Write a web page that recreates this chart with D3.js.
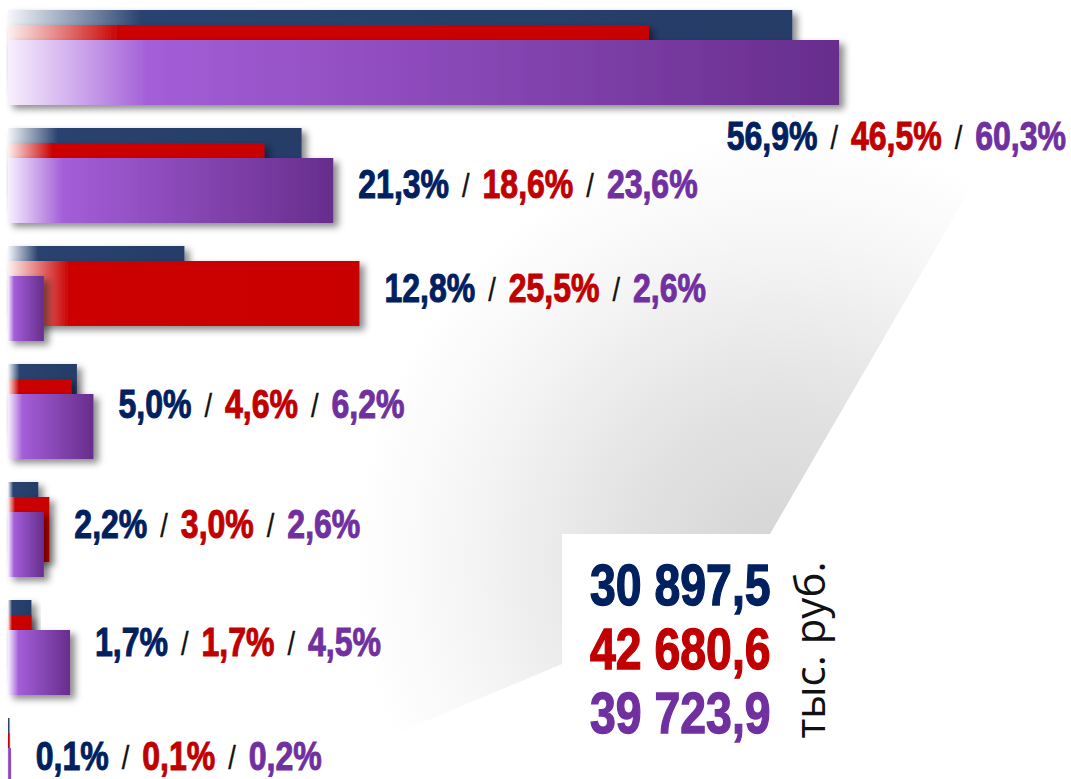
<!DOCTYPE html>
<html>
<head>
<meta charset="utf-8">
<script src="https://cdn.jsdelivr.net/npm/d3@7"></script>
<style>
  html, body { margin: 0; padding: 0; background: #fff; overflow: hidden; }
  svg { display: block; }
</style>
</head>
<body>
<div id="chart"></div>
<script>
"use strict";

// values, share in %
var rows = [0, 1, 2, 3, 4, 5, 6];
var navyValues   = [56.9, 21.3, 12.8, 5.0, 2.2, 1.7, 0.1];
var redValues    = [46.5, 18.6, 25.5, 4.6, 3.0, 1.7, 0.1];
var purpleValues = [60.3, 23.6, 2.6, 6.2, 2.6, 4.5, 0.2];
// totals, thousand rubles
var totals = [30897.5, 42680.6, 39723.9];
var unitLabel = "тыс. руб.";

var W = 1071, H = 779;
var colors = { navy: "#002060", red: "#c00000", purple: "#7030a0" };
var seriesList = [
  { key: "navy",   values: navyValues,   from: "#f4f6fa", to: "#2a426f", end: "#263d68" },
  { key: "red",    values: redValues,    from: "#fdf0f0", to: "#cc0606", end: "#c90404" },
  { key: "purple", values: purpleValues, from: "#f8f0fe", to: "#a35ed8", end: "#672d8c" }
];
// small vertical nudge of the value labels, px
var labelNudge = [0, 14, 0, -2, 0, 0, -4];

var ru = d3.formatLocale({ decimal: ",", thousands: "\u00a0", grouping: [3], currency: ["", ""] });
var fmtPct = ru.format(".1f");
var fmtTotal = ru.format(",.1f");

var svg = d3.select("#chart").append("svg").attr("width", W).attr("height", H);
var defs = svg.append("defs");

// soft grey backdrop behind the chart
var bg = defs.append("radialGradient").attr("id", "bg-grad")
  .attr("gradientUnits", "userSpaceOnUse")
  .attr("cx", 780).attr("cy", 560).attr("r", 520);
bg.append("stop").attr("offset", "0%").attr("stop-color", "#d4d4d4");
bg.append("stop").attr("offset", "30%").attr("stop-color", "#e2e2e2");
bg.append("stop").attr("offset", "62%").attr("stop-color", "#f6f6f6");
bg.append("stop").attr("offset", "82%").attr("stop-color", "#ffffff");

svg.append("path")
  .attr("d", "M1083,-5 L770,534 L562,534 L562,664 L262,790 L-10,790 L-10,-5 Z")
  .attr("fill", "url(#bg-grad)");

// bar gradients and shadow
seriesList.forEach(function(s) {
  var lg = defs.append("linearGradient").attr("id", "grad-" + s.key)
    .attr("x1", "0%").attr("x2", "100%").attr("y1", "0%").attr("y2", "0%");
  lg.append("stop").attr("offset", "0%").attr("stop-color", s.from);
  lg.append("stop").attr("offset", "17%").attr("stop-color", s.to);
  lg.append("stop").attr("offset", "100%").attr("stop-color", s.end);
});

var shadow = defs.append("filter").attr("id", "shadow")
  .attr("x", "-20%").attr("y", "-20%").attr("width", "160%").attr("height", "160%");
shadow.append("feDropShadow").attr("dx", 5).attr("dy", 4).attr("stdDeviation", 3.5)
  .attr("flood-color", "#000").attr("flood-opacity", 0.45);

// scales
var x = d3.scaleLinear().domain([0, 60]).range([8, 835]);
var y = d3.scaleBand().domain(rows).range([10, 10 + rows.length * 118]);
var yOff = d3.scaleLinear().domain([0, seriesList.length - 1]).range([0, 30]);
var barH = 65;

var rowG = svg.selectAll("g.row").data(rows).enter().append("g")
  .attr("class", "row")
  .attr("transform", function(r) { return "translate(0," + y(r) + ")"; });

seriesList.forEach(function(s, si) {
  rowG.append("rect")
    .attr("x", x(0))
    .attr("y", yOff(si))
    .attr("width", function(r) { return Math.max(1.5, x(s.values[r]) - x(0)); })
    .attr("height", barH)
    .attr("fill", "url(#grad-" + s.key + ")")
    .attr("filter", "url(#shadow)");
});

// value labels: navy / red / purple
var boldFont = "'Liberation Sans', Arial, sans-serif";
var sx = 0.8;

rowG.each(function(r) {
  var g = d3.select(this);
  var lg = g.append("g");
  var cx = 0;
  var gap = 13 / sx;
  seriesList.forEach(function(s, si) {
    if (si > 0) {
      var sl = lg.append("text").attr("x", cx + gap).attr("y", -1)
        .attr("font-family", boldFont).attr("font-size", 34)
        .attr("fill", "#111").attr("stroke", "#111").attr("stroke-width", 0.4)
        .text("/");
      cx += gap + sl.node().getComputedTextLength() + gap;
    }
    var t = lg.append("text").attr("x", cx).attr("y", 0)
      .attr("font-family", boldFont).attr("font-weight", "bold").attr("font-size", 40)
      .attr("fill", colors[s.key]).attr("stroke", colors[s.key]).attr("stroke-width", 1)
      .text(fmtPct(s.values[r]) + "%");
    cx += t.node().getComputedTextLength();
  });
  var width = cx * sx;
  var maxEnd = x(d3.max(seriesList, function(s) { return s.values[r]; }));
  var lx = maxEnd + 25, ly = 56 + labelNudge[r];
  if (lx + width > W - 5) { lx = W - 5 - width; ly = 140; }
  lg.attr("transform", "translate(" + lx + "," + ly + ") scale(" + sx + ",1)");
});

// totals card
svg.append("rect")
  .attr("x", 562).attr("y", 534).attr("width", 620).attr("height", 320)
  .attr("rx", 38).attr("fill", "#fff");

var totalColors = [colors.navy, colors.red, colors.purple];
var ty = d3.scaleLinear().domain([0, 2]).range([605, 733]);
svg.selectAll("text.total").data(totals).enter().append("text")
  .attr("class", "total")
  .attr("transform", function(d, i) { return "translate(590," + ty(i) + ") scale(" + sx + ",1)"; })
  .attr("font-family", boldFont).attr("font-weight", "bold").attr("font-size", 58)
  .attr("fill", function(d, i) { return totalColors[i]; })
  .attr("stroke", function(d, i) { return totalColors[i]; })
  .attr("stroke-width", 1.4)
  .text(function(d) { return fmtTotal(d); });

svg.append("text")
  .attr("transform", "translate(825,650) rotate(-90)")
  .attr("text-anchor", "middle")
  .attr("font-family", "'Open Sans', 'Noto Sans', sans-serif")
  .attr("font-size", 42)
  .attr("fill", "#111")
  .text(unitLabel);
</script>
</body>
</html>
